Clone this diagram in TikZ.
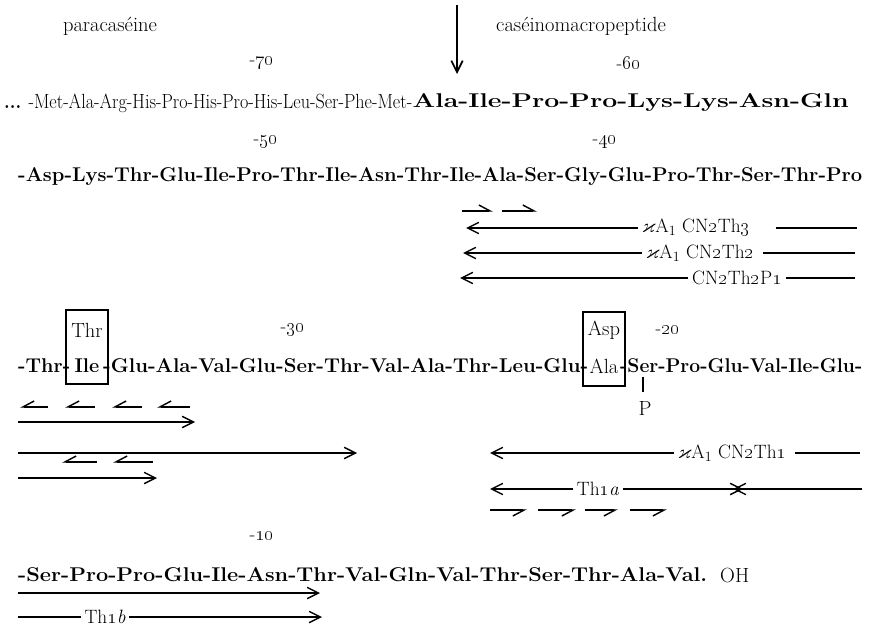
\documentclass[tikz,border=0pt]{standalone}
\usepackage{amssymb}
\usepackage{graphicx}
\usetikzlibrary{arrows.meta}

\newlength\pxlen
\setlength\pxlen{0.3mm}
\newcommand{\onum}[1]{\oldstylenums{#1}}
\newcommand{\fitline}[2]{\resizebox{#1\pxlen}{\height}{#2}}

\begin{document}
\begin{tikzpicture}[x=0.3mm, y=0.3mm,
  lab/.style={font=\fontsize{16.5}{19}\selectfont, inner xsep=3pt, inner ysep=0pt},
  num/.style={font=\fontsize{16}{19}\selectfont, inner sep=0pt},
  res/.style={font=\fontsize{17}{20}\selectfont\bfseries, anchor=west, inner sep=0pt},
  rm/.style={font=\fontsize{17.5}{20}\selectfont, inner sep=0pt},
  boxed/.style={draw, line width=1.5pt, minimum width=12.6mm, minimum height=22.2mm, inner sep=0pt},
  long/.style={line width=1.2pt, -{Straight Barb[length=3.4mm,width=3.4mm]}},
  plain/.style={line width=1.2pt},
  hpa/.style={line width=1.2pt, -{Straight Barb[harpoon,length=3.4mm,width=3.6mm]}},
  hpb/.style={line width=1.2pt, -{Straight Barb[harpoon,swap,length=3.4mm,width=3.6mm]}}]
\useasboundingbox (0,0) rectangle (882,-631);
% cleavage point
\node[rm] (para) at (110,-26) {paracaséine};
\node[rm] (cmp) at (581,-26) {caséinomacropeptide};
\coordinate (cutA) at (457,-5);
\coordinate (cutB) at (457,-74);
\draw[long, line width=1.5pt] (cutA) -- (cutB);
% residues -70 ... -41
\node[num] (n70) at (262,-63) {-\onum{70}};
\node[num] (n60) at (629,-63) {-\onum{60}};
\node[rm, anchor=west] (l1a) at (4,-103) {\fitline{408}{\textbf{...} -Met-Ala-Arg-His-Pro-His-Pro-His-Leu-Ser-Phe-Met-}};
\node[res] (l1b) at (l1a.east) {\fitline{436}{Ala-Ile-Pro-Pro-Lys-Lys-Asn-Gln}};
\node[num] (n50) at (266,-142) {-\onum{50}};
\node[num] (n40) at (605,-142) {-\onum{40}};
\node[res] (l2) at (18,-177) {\fitline{844}{-Asp-Lys-Thr-Glu-Ile-Pro-Thr-Ile-Asn-Thr-Ile-Ala-Ser-Gly-Glu-Pro-Thr-Ser-Thr-Pro}};
% peptides on the right
\foreach \a/\b in {462/493,502/537}
  \draw[hpa] (\a,-211) -- (\b,-211);
\node[lab] (th3) at (696,-228) {$\varkappa$A$_1$ CN\onum{2}Th\onum{3}};
\coordinate (th3tip) at (466,-228);
\coordinate (th3end) at (857,-228);
\draw[long] (th3.west) -- (th3tip);
\draw[plain] ([xshift=6.5mm]th3.east) -- (th3end);
\node[lab] (th2) at (700,-253) {$\varkappa$A$_1$ CN\onum{2}Th\onum{2}};
\coordinate (th2tip) at (463,-253);
\coordinate (th2end) at (855,-253);
\draw[long] (th2.west) -- (th2tip);
\draw[plain] ([xshift=1.5mm]th2.east) -- (th2end);
\node[lab] (thp) at (737,-278) {CN\onum{2}Th\onum{2}P\onum{1}};
\coordinate (thptip) at (460,-278);
\coordinate (thpend) at (855,-278);
\draw[long] (thp.west) -- (thptip);
\draw[plain] (thp.east) -- (thpend);
% residues -40 ... -15
\node[num] (n30) at (293,-330) {-\onum{30}};
\node[num] (n20) at (668,-330) {-\onum{20}};
\node[boxed] (bx1) at (87,-347) {};
\node[rm] (thr) at (87,-330) {Thr};
\node[res, anchor=center] (ile) at (87,-366) {Ile};
\node[boxed] (bx2) at (604,-349) {};
\node[rm] (asp) at (604,-330) {Asp};
\node[rm] (ala) at (604,-366) {Ala};
\node[res] (l3a) at (18,-366) {\fitline{52}{-Thr-}};
\node[res] (l3b) at (103,-366) {\fitline{485}{-Glu-Ala-Val-Glu-Ser-Thr-Val-Ala-Thr-Leu-Glu-}};
\node[res] (l3c) at (620,-366) {\fitline{242}{-Ser-Pro-Glu-Val-Ile-Glu-}};
\node[rm] (phos) at (645,-408) {P};
\coordinate (serP) at (643,-377);
\draw[line width=2pt] (serP) -- ++(0,-15);
% peptides under the third line
\foreach \a/\b in {48/20,95/65,142/112,190/157}
  \draw[hpb] (\a,-407) -- (\b,-407);
\coordinate (pa1) at (18,-422);
\coordinate (pa2) at (195,-422);
\draw[long] (pa1) -- (pa2);
\coordinate (pb1) at (18,-453);
\coordinate (pb2) at (357,-453);
\draw[long] (pb1) -- (pb2);
\foreach \a/\b in {97/62,153/113}
  \draw[hpb] (\a,-462) -- (\b,-462);
\coordinate (pc1) at (18,-478);
\coordinate (pc2) at (157,-478);
\draw[long] (pc1) -- (pc2);
\node[lab] (th1) at (732,-453) {$\varkappa$A$_1$ CN\onum{2}Th\onum{1}};
\coordinate (th1tip) at (490,-453);
\coordinate (th1end) at (860,-453);
\draw[long] (th1.west) -- (th1tip);
\draw[plain] ([xshift=1.5mm]th1.east) -- (th1end);
\node[lab] (th1a) at (598,-489) {Th\onum{1}\textit{a}};
\coordinate (th1atip) at (490,-489);
\coordinate (th1ax) at (743,-489);
\coordinate (th1ay) at (733,-489);
\coordinate (th1aend) at (862,-489);
\draw[long] (th1a.west) -- (th1atip);
\draw[long] (th1a.east) -- (th1ax);
\draw[long] (th1aend) -- (th1ay);
\foreach \a/\b in {490/527,538/576,585/618,630/667}
  \draw[hpb] (\a,-510) -- (\b,-510);
% residues -14 ... -1
\node[num] (n10) at (262,-536) {-\onum{10}};
\node[res] (l4) at (18,-575) {\fitline{689}{-Ser-Pro-Pro-Glu-Ile-Asn-Thr-Val-Gln-Val-Thr-Ser-Thr-Ala-Val.}};
\node[rm, anchor=west] (oh) at (720,-575) {OH};
\coordinate (pd1) at (18,-593);
\coordinate (pd2) at (320,-593);
\draw[long] (pd1) -- (pd2);
\node[lab] (th1b) at (105,-617) {Th\onum{1}\textit{b}};
\coordinate (th1bbeg) at (18,-617);
\coordinate (th1btip) at (322,-617);
\draw[plain] (th1bbeg) -- (th1b.west);
\draw[long] (th1b.east) -- (th1btip);
\end{tikzpicture}
\end{document}
